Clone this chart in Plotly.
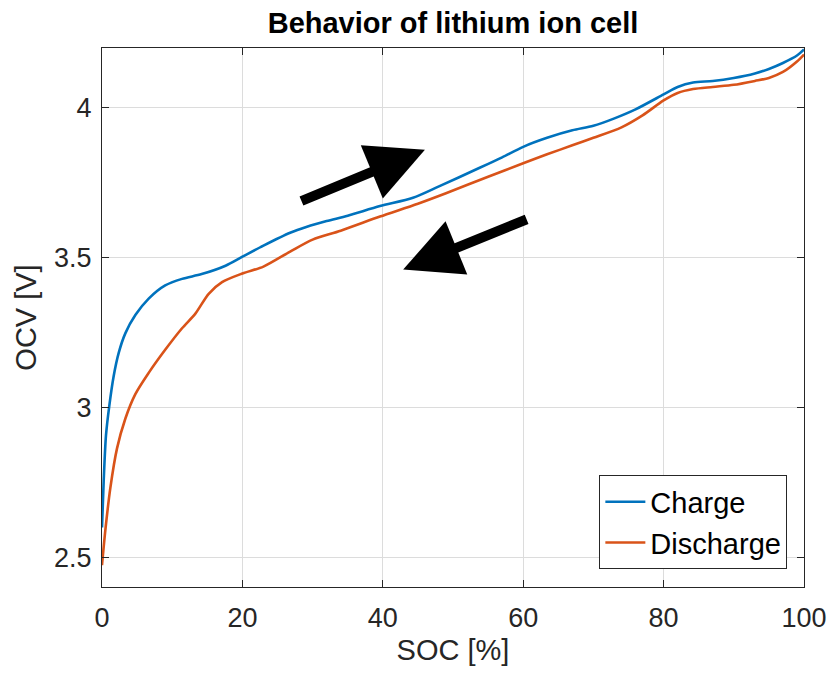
import plotly.graph_objects as go

# Data
charge_soc = [0, 0.24, 0.57, 1.04, 1.66, 2.37, 3.32, 4.75, 6.65, 9.0, 11.4, 14.2, 17.6, 20, 23, 26.8,
              29.2, 32, 35, 39.6, 44.3, 48, 53.8, 57, 60, 63.4, 67, 70, 73, 76, 80, 82, 84.2,
              87, 90, 93, 95, 97, 99, 100]
charge_ocv = [2.599, 2.753, 2.907, 3.005, 3.104, 3.181, 3.247, 3.308, 3.363, 3.407, 3.429, 3.445, 3.473,
              3.503, 3.54, 3.583, 3.603, 3.622, 3.64, 3.672, 3.70, 3.738, 3.80, 3.835, 3.87, 3.90,
              3.925, 3.94, 3.965, 3.995, 4.045, 4.07, 4.085, 4.09, 4.10, 4.115, 4.13, 4.15, 4.175, 4.195]

discharge_soc = [0, 0.47, 1.19, 2.14, 3.32, 4.75, 6.65, 9.0, 11.4, 13.3, 15.2, 17.1, 20, 23, 26.8,
                 30, 34, 39.6, 45, 49, 55, 60, 63.4, 67, 70, 74, 77, 80, 82, 84.2, 87, 90, 93, 95,
                 97, 99, 100]
discharge_ocv = [2.473, 2.588, 2.731, 2.863, 2.962, 3.044, 3.115, 3.192, 3.264, 3.313, 3.379, 3.418,
                 3.447, 3.47, 3.52, 3.56, 3.59, 3.637, 3.68, 3.715, 3.77, 3.815, 3.845, 3.875,
                 3.90, 3.935, 3.975, 4.025, 4.05, 4.063, 4.07, 4.077, 4.09, 4.10, 4.12, 4.155, 4.178]

x_ticks = [0, 20, 40, 60, 80, 100]
y_ticks = [2.5, 3, 3.5, 4]
y_tick_labels = ["2.5", "3", "3.5", "4"]

# arrows: (tip_x, tip_y, tail_x, tail_y)
arrow_up = (46.0, 3.86, 28.2, 3.687)
arrow_down = (42.9, 3.46, 60.7, 3.63)

FONT = "Liberation Sans, Arial, Helvetica, sans-serif"
TXT = "#262626"

fig = go.Figure()
fig.add_trace(go.Scatter(x=charge_soc, y=charge_ocv, mode="lines", name="Charge",
                         line=dict(color="#0072BD", width=2.6, shape="spline", smoothing=0.8)))
fig.add_trace(go.Scatter(x=discharge_soc, y=discharge_ocv, mode="lines", name="Discharge",
                         line=dict(color="#D95319", width=2.6, shape="spline", smoothing=0.8)))

for tx, ty, sx, sy in (arrow_up, arrow_down):
    fig.add_annotation(x=tx, y=ty, ax=sx, ay=sy, xref="x", yref="y", axref="x", ayref="y",
                       text="", showarrow=True, arrowhead=2, arrowsize=1.15, arrowwidth=10,
                       arrowcolor="black", standoff=0)

axis_common = dict(showline=True, linecolor=TXT, linewidth=1.3, mirror="ticks",
                   ticks="inside", ticklen=7, tickcolor=TXT, tickwidth=1.3,
                   showgrid=True, gridcolor="#dcdcdc", gridwidth=1, zeroline=False,
                   automargin=False,
                   tickfont=dict(family=FONT, size=27, color=TXT))

fig.update_xaxes(range=[0, 100], tickvals=x_ticks, ticklabelstandoff=6,
                 title=dict(text="SOC [%]", font=dict(family=FONT, size=29, color=TXT), standoff=8),
                 **axis_common)
fig.update_yaxes(range=[2.4, 4.2], tickvals=y_ticks, ticktext=y_tick_labels, ticklabelstandoff=4,
                 title=dict(text="OCV [V]", font=dict(family=FONT, size=29, color=TXT), standoff=8),
                 **axis_common)

fig.update_layout(
    width=831, height=675,
    margin=dict(l=102, r=27, t=48, b=88, autoexpand=False),
    paper_bgcolor="white", plot_bgcolor="white",
    title=dict(text="<b>Behavior of lithium ion cell</b>", x=(102 + 351) / 831, xanchor="center",
               y=1 - 23 / 675, yanchor="middle",
               font=dict(family=FONT, size=29, color="black")),
    showlegend=True,
    legend=dict(x=0.976, y=0.033, xanchor="right", yanchor="bottom",
                bgcolor="white", bordercolor=TXT, borderwidth=1.2,
                font=dict(family=FONT, size=29, color="black"),
                tracegroupgap=0, itemwidth=40),
)

fig.write_html("out.html")
